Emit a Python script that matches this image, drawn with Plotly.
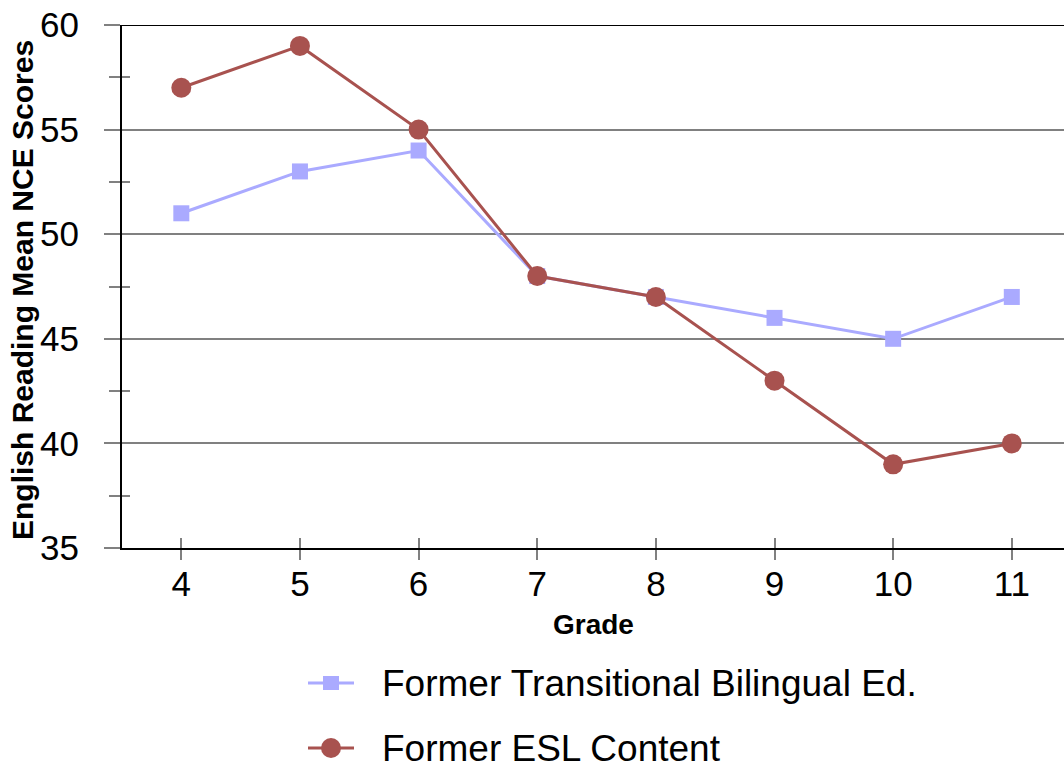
import plotly.graph_objects as go

grades = [4, 5, 6, 7, 8, 9, 10, 11]
transitional_bilingual = [51, 53, 54, 48, 47, 46, 45, 47]
esl_content = [57, 59, 55, 48, 47, 43, 39, 40]

y_ticks = [35, 40, 45, 50, 55, 60]
y_minor = [37.5, 42.5, 47.5, 52.5, 57.5]

FONT = "Liberation Sans, Arial, sans-serif"
BLUE = "#AAAAFF"
RED = "#A8524F"
GRID = "#808080"

series = [
    dict(name="Former Transitional Bilingual Ed.", values=transitional_bilingual,
         color=BLUE, symbol="square", size=16),
    dict(name="Former ESL Content", values=esl_content,
         color=RED, symbol="circle", size=20),
]

fig = go.Figure()
for s in series:
    fig.add_trace(go.Scatter(
        x=grades, y=s["values"], name=s["name"], mode="lines+markers",
        line=dict(color=s["color"], width=3),
        marker=dict(symbol=s["symbol"], size=s["size"], color=s["color"]),
        showlegend=False,
    ))

# invisible carrier for the inner halves of the crossing ticks
fig.add_trace(go.Scatter(x=grades, y=[None] * len(grades), xaxis="x2", yaxis="y2",
                         showlegend=False, hoverinfo="skip"))

x_range = [3.5, 11.44]
y_range = [35, 60]

# plot area in pixels: left 122, width 942, top 25, height 523
PLOT_L, PLOT_W, PLOT_B, PLOT_H = 122, 942, 548, 523


def px_x(px):
    return (px - PLOT_L) / PLOT_W


def px_y(py):
    return (PLOT_B - py) / PLOT_H


# legend drawn below the plot: one row per series
shapes = [dict(type="line", xref="paper", yref="y", x0=0, x1=1, y0=60, y1=60,
               line=dict(color="black", width=2))]
annotations = []
legend_rows = [683, 748]
for s, row in zip(series, legend_rows):
    yc = px_y(row)
    shapes.append(dict(
        type="line", xref="paper", yref="paper", xsizemode="pixel", ysizemode="pixel",
        xanchor=px_x(331), yanchor=yc, x0=-23, x1=23, y0=0, y1=0,
        line=dict(color=s["color"], width=3),
    ))
    half = 8 if s["symbol"] == "square" else 10
    shapes.append(dict(
        type="rect" if s["symbol"] == "square" else "circle",
        xref="paper", yref="paper", xsizemode="pixel", ysizemode="pixel",
        xanchor=px_x(331), yanchor=yc, x0=-half, x1=half,
        y0=-half if s["symbol"] == "circle" else -7, y1=half if s["symbol"] == "circle" else 7,
        fillcolor=s["color"], line=dict(width=0),
    ))
    annotations.append(dict(
        text=s["name"], xref="paper", yref="paper", x=px_x(381), y=yc,
        xanchor="left", yanchor="middle", showarrow=False, borderpad=0,
        font=dict(size=37, family=FONT, color="black"),
    ))

annotations += [
    dict(text="<b>Grade</b>", xref="paper", yref="paper", x=0.5, y=px_y(624),
         xanchor="center", yanchor="middle", showarrow=False,
         font=dict(size=28, family=FONT)),
    dict(text="<b>English Reading Mean NCE Scores</b>", xref="paper", yref="paper",
         x=px_x(23), y=px_y(290), xanchor="center", yanchor="middle", textangle=-90,
         showarrow=False, font=dict(size=30, family=FONT)),
]

fig.update_layout(
    width=1064, height=771,
    margin=dict(l=122, r=0, t=25, b=223),
    paper_bgcolor="white", plot_bgcolor="white",
    font=dict(family=FONT, color="black"),
    showlegend=False,
    xaxis=dict(
        range=x_range, tickvals=grades, ticktext=[str(g) for g in grades],
        ticks="outside", ticklen=10, tickwidth=2, tickcolor=GRID,
        showgrid=False, zeroline=False,
        showline=True, linecolor="black", linewidth=2,
        tickfont=dict(size=35, family=FONT), ticklabelstandoff=-6,
    ),
    yaxis=dict(
        range=y_range, tickvals=y_ticks,
        ticks="outside", ticklen=16, tickwidth=2, tickcolor=GRID,
        showgrid=True, gridcolor=GRID, gridwidth=2,
        zeroline=False,
        showline=True, linecolor="black", linewidth=2,
        tickfont=dict(size=35, family=FONT), ticklabelstandoff=18,
        minor=dict(tickvals=y_minor, ticks="outside", ticklen=11,
                   tickwidth=2, tickcolor=GRID, showgrid=False),
    ),
    xaxis2=dict(
        overlaying="x", range=x_range, tickvals=grades, showticklabels=False,
        ticks="inside", ticklen=10, tickwidth=2, tickcolor=GRID,
        showgrid=False, zeroline=False, showline=False,
    ),
    yaxis2=dict(
        overlaying="y", range=y_range, tickvals=y_minor, showticklabels=False,
        ticks="inside", ticklen=8, tickwidth=2, tickcolor=GRID,
        showgrid=False, zeroline=False, showline=False,
    ),
    shapes=shapes,
    annotations=annotations,
)

fig.write_html("out.html")
